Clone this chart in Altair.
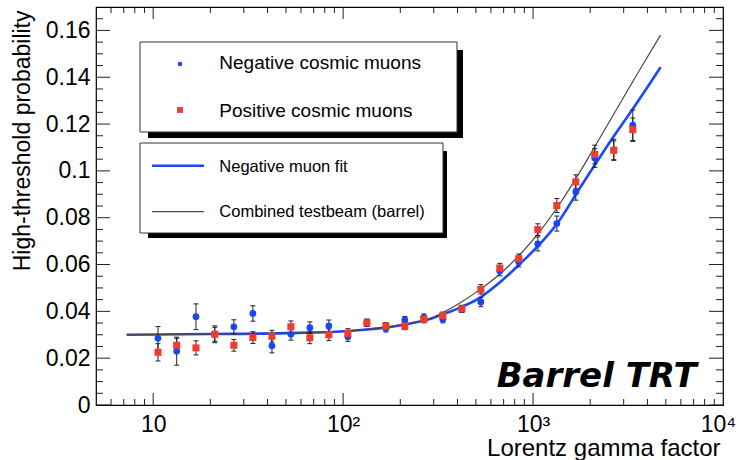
import altair as alt
import pandas as pd

# ---------------- data ----------------
gamma = [10.6, 13.3, 16.8, 21.1, 26.6, 33.5, 42.2, 53.1, 66.8, 84.1, 105.9, 133.4, 167.9,
         211.3, 266.1, 335.0, 421.7, 530.9, 668.3, 841.4, 1059, 1334, 1679, 2113, 2661, 3350]
neg_p = [0.0285, 0.0230, 0.0377, 0.0302, 0.0334, 0.0391, 0.0253, 0.0302, 0.0330, 0.0338, 0.0292,
         0.0352, 0.0327, 0.0363, 0.0374, 0.0366, 0.0410, 0.0440, 0.0572, 0.0610, 0.0688, 0.0775,
         0.0910, 0.1055, 0.1090, 0.1195]
neg_err = [0.0050, 0.0060, 0.0055, 0.0030, 0.0030, 0.0033, 0.0030, 0.0025, 0.0025, 0.0025, 0.0020,
           0.0015, 0.0015, 0.0015, 0.0015, 0.0015, 0.0015, 0.0020, 0.0020, 0.0020, 0.0030, 0.0032,
           0.0035, 0.0040, 0.0045, 0.0065]
pos_p = [0.0225, 0.0255, 0.0244, 0.0302, 0.0255, 0.0288, 0.0294, 0.0334, 0.0287, 0.0300, 0.0306,
         0.0351, 0.0337, 0.0337, 0.0366, 0.0382, 0.0411, 0.0494, 0.0585, 0.0625, 0.0749, 0.0852,
         0.0953, 0.1070, 0.1088, 0.1176]
pos_err = [0.0037, 0.0030, 0.0030, 0.0036, 0.0025, 0.0025, 0.0025, 0.0025, 0.0025, 0.0025, 0.0020,
           0.0015, 0.0015, 0.0015, 0.0015, 0.0015, 0.0015, 0.0020, 0.0020, 0.0020, 0.0025, 0.0030,
           0.0030, 0.0040, 0.0040, 0.0050]

fit_gamma = [7.25, 20.1, 50, 102, 205, 289, 326, 410, 529, 674, 859, 1094, 1340, 1778, 2055,
             2655, 3143, 4170, 4690]
fit_p = [0.0300, 0.0303, 0.0307, 0.0315, 0.0342, 0.0368, 0.0384, 0.0415, 0.0460, 0.0526, 0.0605,
         0.0690, 0.0775, 0.0931, 0.1010, 0.1147, 0.1232, 0.1380, 0.1443]

tb_gamma = [7.25, 20.1, 50, 102, 205, 289, 326, 410, 529, 674, 859, 1094, 1396, 1778, 2262,
            2879, 3665, 4690]
tb_p = [0.0300, 0.0303, 0.0307, 0.0315, 0.0343, 0.0370, 0.0390, 0.0435, 0.0495, 0.0562, 0.0645,
        0.0745, 0.0865, 0.1000, 0.1145, 0.1290, 0.1435, 0.1580]

y_major = [0, 0.02, 0.04, 0.06, 0.08, 0.10, 0.12, 0.14, 0.16]
y_minor = [0.005, 0.01, 0.015, 0.025, 0.03, 0.035, 0.045, 0.05, 0.055, 0.065, 0.07, 0.075,
           0.085, 0.09, 0.095, 0.105, 0.11, 0.115, 0.125, 0.13, 0.135, 0.145, 0.15, 0.155, 0.165]
x_major = [10, 100, 1000]
x_minor = [6, 7, 8, 9, 20, 30, 40, 50, 60, 70, 80, 90, 200, 300, 400, 500, 600, 700, 800, 900,
           2000, 3000, 4000, 5000, 6000, 7000, 8000, 9000]
x_label_values = [10, 100, 1000, 10000]
x_label_text = ["10", "10²", "10³", "10⁴"]

legend_points = ["Negative cosmic muons", "Positive cosmic muons"]
legend_lines = ["Negative muon fit", "Combined testbeam (barrel)"]
title_x = "Lorentz gamma factor"
title_y = "High-threshold probability"
label_text = "Barrel TRT"

# ---------------- styling ----------------
W, H = 627, 398
FONT = "Liberation Sans"
BLUE = "#1b45f5"
RED = "#ee3d2e"
LINE_BLUE = "#1a48ff"
GRAY = "#4a4a4a"
INK = "#222222"

xs = alt.Scale(type="log", domain=[5, 10000], nice=False)
ys = alt.Scale(domain=[0, 0.17], nice=False, zero=False)

label_expr = ""
for v, t in zip(x_label_values[:-1], x_label_text[:-1]):
    label_expr += f"datum.value < {v * 3} ? '{t}' : "
label_expr += f"'{x_label_text[-1]}'"

AX = alt.Axis(
    values=x_label_values, labelExpr=label_expr, ticks=False, domain=False, grid=False,
    tickSize=0, labelPadding=8, labelFontSize=23, labelFont=FONT, labelColor="black",
    labelFlush=False, labelOverlap=False, labelBound=False,
    labelOffset={"condition": {"test": f"datum.value >= {x_label_values[-1]}", "value": -5},
                 "value": 0},
    title=title_x, titleFont=FONT, titleFontSize=24, titleFontWeight="normal",
    titleColor="black", titleX=W - 3, titleY=50, titleAlign="right",
    titleBaseline="alphabetic")
AY = alt.Axis(
    values=y_major, format="~g", ticks=False, domain=False, grid=False, tickSize=0,
    labelPadding=6, labelFontSize=23, labelFont=FONT, labelColor="black",
    labelFlush=False, labelOverlap=False, labelBound=False,
    title=title_y, titleFont=FONT, titleFontSize=23, titleFontWeight="normal",
    titleColor="black", titleAngle=270, titleX=-74, titleY=3, titleAlign="right",
    titleBaseline="middle")

pts = pd.DataFrame({"g": gamma, "neg": neg_p, "pos": pos_p,
                    "neg_lo": [p - e for p, e in zip(neg_p, neg_err)],
                    "neg_hi": [p + e for p, e in zip(neg_p, neg_err)],
                    "pos_lo": [p - e for p, e in zip(pos_p, pos_err)],
                    "pos_hi": [p + e for p, e in zip(pos_p, pos_err)]})
fit_df = pd.DataFrame({"g": fit_gamma, "p": fit_p})
tb_df = pd.DataFrame({"g": tb_gamma, "p": tb_p})
one = pd.DataFrame({"a": [0]})

X = lambda f: alt.X(f, type="quantitative", scale=xs, axis=AX, title=title_x)
Y = lambda f: alt.Y(f, type="quantitative", scale=ys, axis=AY, title=title_y)

layers = []

layers.append(alt.Chart(fit_df).mark_line(color=LINE_BLUE, strokeWidth=2.6,
                                          interpolate="monotone").encode(x=X("g"), y=Y("p")))
layers.append(alt.Chart(tb_df).mark_line(color=GRAY, strokeWidth=1.2,
                                         interpolate="monotone").encode(x=X("g"), y=Y("p")))

# frame ticks (inside, on all four sides)
ymaj = pd.DataFrame({"v": y_major})
ymin = pd.DataFrame({"v": y_minor})
xmaj = pd.DataFrame({"v": x_major})
xmin = pd.DataFrame({"v": x_minor})
for df, ln in ((ymaj, 14), (ymin, 7)):
    layers.append(alt.Chart(df).mark_rule(color=INK, strokeWidth=1).encode(
        y=Y("v"), x=alt.value(0), x2=alt.value(ln)))
    layers.append(alt.Chart(df).mark_rule(color=INK, strokeWidth=1).encode(
        y=Y("v"), x=alt.value(W - ln), x2=alt.value(W)))
for df, ln in ((xmaj, 12), (xmin, 6)):
    layers.append(alt.Chart(df).mark_rule(color=INK, strokeWidth=1).encode(
        x=X("v"), y=alt.value(H - ln), y2=alt.value(H)))
    layers.append(alt.Chart(df).mark_rule(color=INK, strokeWidth=1).encode(
        x=X("v"), y=alt.value(0), y2=alt.value(ln)))

# error bars
for s in ("neg", "pos"):
    layers.append(alt.Chart(pts).mark_rule(color=INK, strokeWidth=1).encode(
        x=X("g"), y=Y(f"{s}_lo"), y2=f"{s}_hi:Q"))
    for end in ("lo", "hi"):
        layers.append(alt.Chart(pts).mark_tick(orient="horizontal", size=5, thickness=1,
                                               color=INK, opacity=1).encode(
            x=X("g"), y=Y(f"{s}_{end}")))

# markers
layers.append(alt.Chart(pts).mark_point(shape="circle", filled=True, size=46, color=BLUE,
                                        opacity=1).encode(x=X("g"), y=Y("neg")))
layers.append(alt.Chart(pts).mark_point(shape="square", filled=True, size=50, color=RED,
                                        opacity=1).encode(x=X("g"), y=Y("pos")))

# legend boxes with drop shadows
def box(x1, x2, y1, y2, fill, stroke=None):
    kw = dict(fill=fill)
    if stroke:
        kw.update(stroke=stroke, strokeWidth=1)
    return alt.Chart(one).mark_rect(**kw).encode(
        x=alt.value(x1), x2=alt.value(x2), y=alt.value(y1), y2=alt.value(y2))

layers += [box(52, 367, 43, 131, "black"), box(44, 361, 35, 125, "white", "#333333"),
           box(52, 351, 144, 231, "black"), box(44, 347, 136, 226, "white", "#333333")]

layers.append(alt.Chart(one).mark_point(shape="circle", filled=True, size=22, color=BLUE,
                                        opacity=1).encode(x=alt.value(84), y=alt.value(57)))
layers.append(alt.Chart(one).mark_point(shape="square", filled=True, size=34, color=RED,
                                        opacity=1).encode(x=alt.value(84), y=alt.value(103)))
layers.append(alt.Chart(one).mark_rule(color=LINE_BLUE, strokeWidth=2.6).encode(
    x=alt.value(56), x2=alt.value(108), y=alt.value(158.7)))
layers.append(alt.Chart(one).mark_rule(color=GRAY, strokeWidth=1.2).encode(
    x=alt.value(56), x2=alt.value(108), y=alt.value(204.7)))

for txt, yy, fs in ((legend_points[0], 62.3, 19), (legend_points[1], 110.3, 19),
                    (legend_lines[0], 164.7, 16.5), (legend_lines[1], 209.7, 16.5)):
    layers.append(alt.Chart(one).mark_text(text=txt, align="left", baseline="alphabetic",
                                           font=FONT, fontSize=fs, color="black").encode(
        x=alt.value(123.3), y=alt.value(yy)))

layers.append(alt.Chart(one).mark_text(text=label_text, align="left", baseline="alphabetic",
                                       font="DejaVu Sans", fontSize=34, fontWeight="bold",
                                       fontStyle="italic", color="black").encode(
    x=alt.value(400.7), y=alt.value(379.7)))

chart = alt.layer(*layers).properties(
    width=W, height=H,
    padding={"left": 96, "top": 7, "right": 17, "bottom": 55},
    autosize=alt.AutoSizeParams(type="none"),
    background="white",
).configure_view(stroke="black", strokeWidth=1.2, fill="white")

chart.save("out.html", embed_options={"renderer": "svg", "actions": False})
